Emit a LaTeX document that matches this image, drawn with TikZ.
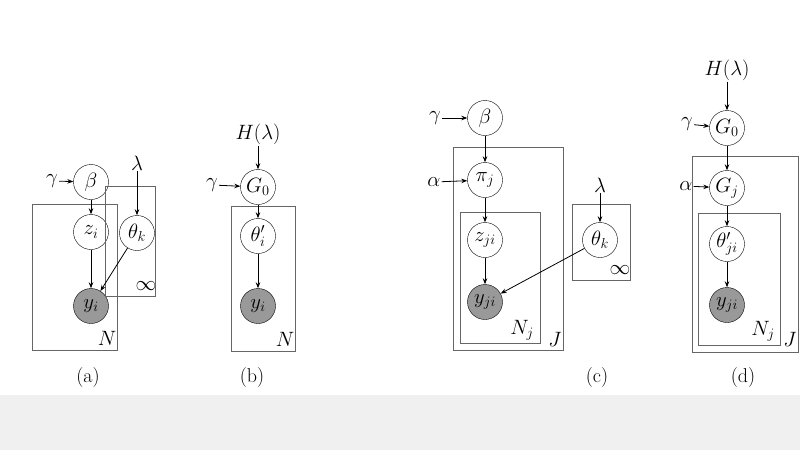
\documentclass[tikz,border=0pt]{standalone}
\usetikzlibrary{arrows.meta}
\begin{document}
\begin{tikzpicture}[x=1pt,y=-1pt,
  var/.style={circle,draw,minimum size=35pt,inner sep=0pt,font=\fontsize{21}{23}\selectfont},
  obs/.style={var,fill=black!40},
  plate/.style={draw=black!60,line width=1pt},
  arr/.style={-{Stealth[length=6pt]},line width=0.8pt},
  lab/.style={font=\fontsize{20}{22}\selectfont,inner sep=1pt}]
\useasboundingbox (0,0) rectangle (800,450);
\fill[black!6] (0,395) rectangle (800,450);
% (a)
\node[lab] (ga) at (52,181) {$\gamma$};
\node[var] (ba) at (91,182) {$\beta$};
\node[var] (za) at (91,232) {$z_i$};
\node[obs] (ya) at (91,306) {$y_i$};
\node[lab] (la) at (137,163) {$\lambda$};
\node[var] (ta) at (137,233) {$\theta_k$};
\draw[plate] (32,204) rectangle (117,350);
\draw[plate] (105,186) rectangle (155,296);
\node[lab] at (107,338) {$N$};
\node[lab] at (146,286) {$\infty$};
\draw[arr] (ga)--(ba); \draw[arr] (ba)--(za); \draw[arr] (za)--(ya);
\draw[arr] (la)--(ta); \draw[arr] (ta)--(ya);
\node[lab] at (88,378) {(a)};
% (b)
\node[lab] (hb) at (258,134) {$H(\lambda)$};
\node[lab] (gb) at (212,185) {$\gamma$};
\node[var] (g0b) at (258,187) {$G_0$};
\node[var] (tb) at (258,236) {$\theta'_i$};
\node[obs] (yb) at (258,306) {$y_i$};
\draw[plate] (231,206) rectangle (295,351);
\node[lab] at (285,339) {$N$};
\draw[arr] (hb)--(g0b); \draw[arr] (gb)--(g0b); \draw[arr] (g0b)--(tb); \draw[arr] (tb)--(yb);
\node[lab] at (252,378) {(b)};
% (c)
\node[lab] (gc) at (435,118) {$\gamma$};
\node[var] (bc) at (485,118) {$\beta$};
\node[lab] (ac) at (434,182) {$\alpha$};
\node[var] (pc) at (485,180) {$\pi_j$};
\node[var] (zc) at (485,240) {$z_{ji}$};
\node[obs] (yc) at (485,302) {$y_{ji}$};
\node[lab] (lc) at (600,185) {$\lambda$};
\node[var] (tc) at (600,240) {$\theta_k$};
\draw[plate] (453,147) rectangle (563,350);
\draw[plate] (460,212) rectangle (540,343);
\draw[plate] (572,204) rectangle (630,280);
\node[lab] at (522,330) {$N_j$};
\node[lab] at (555,339) {$J$};
\node[lab] at (620,270) {$\infty$};
\draw[arr] (gc)--(bc); \draw[arr] (bc)--(pc); \draw[arr] (ac)--(pc); \draw[arr] (pc)--(zc); \draw[arr] (zc)--(yc);
\draw[arr] (lc)--(tc); \draw[arr] (tc)--(yc);
\node[lab] at (597,378) {(c)};
% (d)
\node[lab] (hd) at (727,70) {$H(\lambda)$};
\node[lab] (gd) at (687,124) {$\gamma$};
\node[var] (g0d) at (727,128) {$G_0$};
\node[lab] (ad) at (686,186) {$\alpha$};
\node[var] (gjd) at (727,188) {$G_j$};
\node[var] (td) at (727,244) {$\theta'_{ji}$};
\node[obs] (yd) at (727,305) {$y_{ji}$};
\draw[plate] (692,156) rectangle (798,352);
\draw[plate] (698,213) rectangle (780,345);
\node[lab] at (763,331) {$N_j$};
\node[lab] at (790,339) {$J$};
\draw[arr] (hd)--(g0d); \draw[arr] (gd)--(g0d); \draw[arr] (g0d)--(gjd); \draw[arr] (ad)--(gjd); \draw[arr] (gjd)--(td); \draw[arr] (td)--(yd);
\node[lab] at (743,378) {(d)};
\end{tikzpicture}
\end{document}
